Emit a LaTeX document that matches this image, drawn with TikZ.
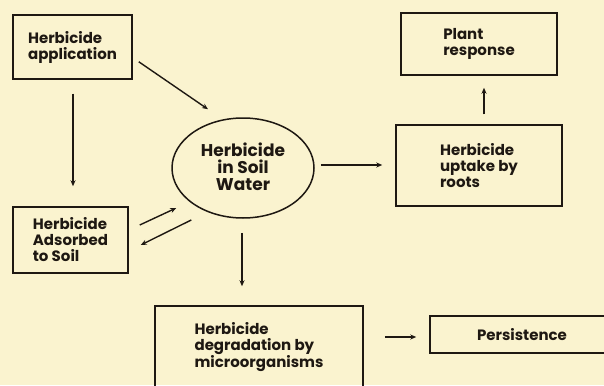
\documentclass[tikz,border=0pt]{standalone}
\usepackage{fontspec}
\setmainfont{Poppins}
\usetikzlibrary{arrows.meta,calc,shapes.geometric}
\definecolor{paper}{RGB}{250,243,207}
\definecolor{ink}{RGB}{30,24,18}
\tikzset{
  box/.style={draw=ink, line width=1.5pt, inner sep=0pt, align=left, text=ink,
    font=\bfseries\fontsize{15}{16}\selectfont},
  oval/.style={draw=ink, line width=1.5pt, ellipse, inner sep=0pt, align=center, text=ink,
    font=\bfseries\fontsize{17}{17}\selectfont},
  arr/.style={draw=ink, line width=1.4pt, -{Stealth[length=6pt,width=5pt]}}
}
\begin{document}
\begin{tikzpicture}[x=1pt,y=-1pt]
\fill[paper] (0,0) rectangle (604,385);
\useasboundingbox (0,0) rectangle (604,385);
\clip (0,0) rectangle (604,385);
\node[box, minimum width=119pt, minimum height=64pt] (app) at (72.5,47) {Herbicide\\application};
\node[box, minimum width=156pt, minimum height=62pt] (plant) at (479,44) {Plant\\response};
\node[box, minimum width=166pt, minimum height=81pt] (upt) at (479,165.5) {Herbicide\\uptake by\\roots};
\node[box, minimum width=115pt, minimum height=66pt] (ads) at (70.5,240) {Herbicide\\Adsorbed\\to Soil};
\node[box, minimum width=208pt, minimum height=82pt] (deg) at (259,347) {Herbicide\\degradation by\\microorganisms};
\node[box, minimum width=184pt, minimum height=37pt] (pers) at (522,334.5) {Persistence};
\node[oval, minimum width=142pt, minimum height=100pt] (ell) at (243,168) {\\[-6pt]Herbicide\\in Soil\\Water};
% connectors
\draw[arr] ($(app.south)+(0.5,14)$) -- ($(app.south |- ads.north)+(0.5,-20)$);
\draw[arr] ($(app.south east)+(6,-18)$) -- ($(ell.north)+(-35,-8)$);
\draw[arr] ($(ell.east)+(6,-3)$) -- ($(upt.west)+(-13,-0.5)$);
\draw[arr] ($(upt.north)+(5,-10)$) -- ($(plant.south)+(5,12)$);
\draw[arr] ($(ads.east)+(11,-15)$) -- ($(ell.west)+(5,40)$);
\draw[arr] ($(ell.west)+(20,52)$) -- ($(ads.east)+(12,5)$);
\draw[arr] ($(ell.south)+(-1,14)$) -- ($(ell.south |- deg.north)+(-1,-19)$);
\draw[arr] ($(deg.east)+(21,-10)$) -- ($(pers.west)+(-13,2.5)$);
\end{tikzpicture}
\end{document}
